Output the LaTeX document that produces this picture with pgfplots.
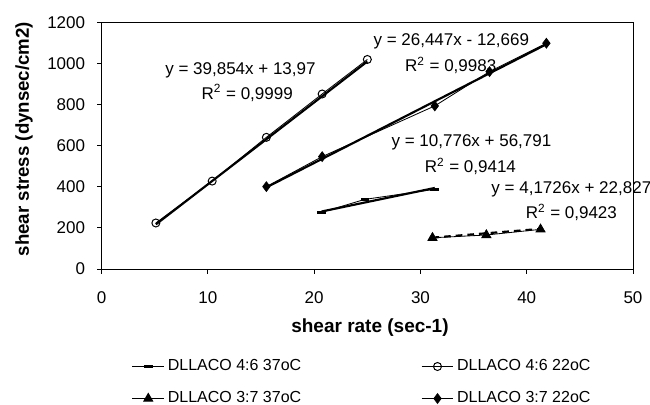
\documentclass[border=0pt]{standalone}
\usepackage{fontspec}
\setmainfont{Liberation Sans}
\usepackage{pgfplots}
\pgfplotsset{compat=1.18}
\begin{document}
\begin{tikzpicture}
\begin{axis}[
  scale only axis, width=318.8pt, height=147.9pt,
  xmin=0, xmax=50, ymin=0, ymax=1200,
  xtick={0,10,...,50}, ytick={0,200,...,1200},
  tick pos=left, tick align=outside, major tick length=2.8pt,
  axis line style={line width=0.6pt},
  every tick/.style={black, line width=0.6pt},
  /pgf/number format/assume math mode=true,
  /pgf/number format/1000 sep={},
  tick label style={font=\fontsize{10.2}{12}\selectfont},
  xticklabel style={anchor=center, yshift=-14.4pt},
  yticklabel style={anchor=east, xshift=-3.6pt},
  xlabel={shear rate (sec-1)},
  ylabel={shear stress (dynsec/cm2)},
  every axis x label/.style={at={(axis description cs:0.505,-0.239)}, anchor=center, font=\fontsize{11.4}{13}\selectfont\bfseries},
  every axis y label/.style={at={(axis description cs:-0.146,0.527)}, anchor=center, rotate=90, font=\fontsize{11.2}{13}\selectfont\bfseries},
  legend columns=2,
  legend style={at={(axis description cs:0.0565,-0.4605)}, anchor=west, draw=none, fill=none,
    inner sep=0pt, font=\fontsize{9.6}{11}\selectfont, row sep=9pt,
    nodes={inner xsep=2pt, inner ysep=1pt},
    /tikz/every even column/.append style={column sep=70pt}},
  legend image code/.code={\draw[mark repeat=2,mark phase=2,#1] plot coordinates {(0pt,0pt) (9.5pt,0pt) (19pt,0pt)};},
  clip=false,
]
% series
\addplot[black, line width=0.5pt, mark=-, mark size=2.6pt, mark options={line width=1.6pt}] coordinates {(20.7,276) (24.77,339) (31.35,388)};
\addlegendentry{DLLACO 4:6 37oC}
\addplot[black, line width=0.5pt, mark=o, mark size=2.4pt, mark options={fill=white, line width=0.6pt}] coordinates {(5.1,224) (10.4,428) (15.5,641) (20.75,852) (25.0,1020)};
\addlegendentry{DLLACO 4:6 22oC}
\addplot[black, line width=0.5pt, mark=triangle*, mark size=3.1pt] coordinates {(31.13,152) (36.2,165.5) (41.3,193)};
\addlegendentry{DLLACO 3:7 37oC}
\addplot[black, line width=0.5pt, mark=diamond*, mark size=2.9pt] coordinates {(15.5,401) (20.75,547) (31.35,794) (36.5,961) (41.85,1099)};
\addlegendentry{DLLACO 3:7 22oC}
% linear trendlines
\addplot[black, line width=1.3pt, forget plot] coordinates {(20.7,279.9) (31.35,394.6)};
\addplot[black, line width=1.3pt, forget plot] coordinates {(5.1,217.2) (25.0,1010.3)};
\addplot[black, line width=1.3pt, dash pattern=on 4pt off 3pt, forget plot] coordinates {(31.13,152.7) (41.3,195.2)};
\addplot[black, line width=1.3pt, forget plot] coordinates {(15.5,397.3) (41.85,1094.1)};
% equations
\node[font=\fontsize{10.2}{12}\selectfont] at (axis cs:13.06,969) {y = 39,854x + 13,97};
\node[font=\fontsize{10.2}{12}\selectfont] at (axis cs:13.7,857) {R\textsuperscript{2} = 0,9999};
\node[font=\fontsize{10.2}{12}\selectfont] at (axis cs:32.9,1110) {y = 26,447x - 12,669};
\node[font=\fontsize{10.2}{12}\selectfont] at (axis cs:32.85,993) {R\textsuperscript{2} = 0,9983};
\node[font=\fontsize{10.2}{12}\selectfont] at (axis cs:34.8,615) {y = 10,776x + 56,791};
\node[font=\fontsize{10.2}{12}\selectfont] at (axis cs:34.7,498) {R\textsuperscript{2} = 0,9414};
\node[font=\fontsize{10.2}{12}\selectfont] at (axis cs:44.2,389) {y = 4,1726x + 22,827};
\node[font=\fontsize{10.2}{12}\selectfont] at (axis cs:44.2,276) {R\textsuperscript{2} = 0,9423};
\end{axis}
\pgfresetboundingbox
\useasboundingbox (-61pt,-81.6pt) rectangle (329pt,161.4pt);
\end{tikzpicture}
\end{document}
